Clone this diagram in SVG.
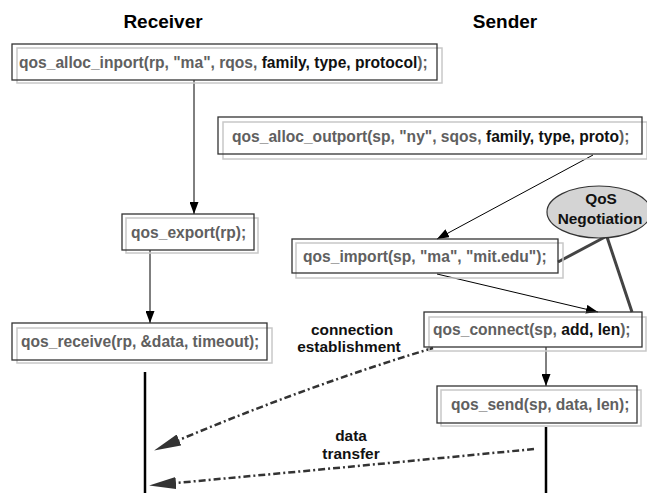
<svg xmlns="http://www.w3.org/2000/svg" width="647" height="493" viewBox="0 0 647 493">
<defs>
<style>
.t{font-family:"Liberation Sans",Arial,sans-serif;font-weight:bold;font-size:15.6px;fill:#606060}
.k{fill:#111}
.h{font-family:"Liberation Sans",Arial,sans-serif;font-weight:bold;font-size:19px;fill:#000;text-anchor:middle}
.lb{font-family:"Liberation Sans",Arial,sans-serif;font-weight:bold;font-size:15.4px;fill:#111;text-anchor:middle}
.dk{fill:none;stroke:#333;stroke-width:1.3}
.lt{fill:none;stroke:#c8c8c8;stroke-width:1.5}
.ar{stroke:#000;stroke-width:1;fill:none}
.neg{stroke:#444;stroke-width:3;fill:none}
.life{stroke:#000;stroke-width:2.5}
.dash{stroke:#333;stroke-width:2.5;fill:none;stroke-dasharray:7 3 2 3}
</style>
<marker id="a" markerUnits="userSpaceOnUse" markerWidth="12" markerHeight="9" refX="12" refY="4.5" orient="auto"><path d="M0,0 L12,4.5 L0,9 z" fill="#000"/></marker>
<marker id="b" markerUnits="userSpaceOnUse" markerWidth="27" markerHeight="12" refX="0" refY="6" orient="auto"><path d="M0,0 L27,6 L0,12 z" fill="#333"/></marker>
</defs>
<rect width="647" height="493" fill="#fff"/>
<g id="headers">
<text class="h" x="163" y="28">Receiver</text>
<text class="h" x="505" y="28">Sender</text>
</g>
<g id="connectors">
<line class="ar" x1="194" y1="80" x2="194" y2="214" marker-end="url(#a)"/>
<line class="ar" x1="150" y1="250" x2="150" y2="323" marker-end="url(#a)"/>
<line class="ar" x1="593" y1="155" x2="437" y2="239" marker-end="url(#a)"/>
<line class="ar" x1="437" y1="274" x2="598" y2="312" marker-end="url(#a)"/>
<line class="ar" x1="546" y1="347" x2="546" y2="386" marker-end="url(#a)"/>
<line class="neg" x1="605" y1="237" x2="558" y2="262"/>
<line class="neg" x1="607" y1="237" x2="632" y2="312"/>
<line class="life" x1="145" y1="372" x2="145" y2="493"/>
<line class="life" x1="546" y1="427" x2="546" y2="493"/>
<path class="dash" d="M433,348 Q310,385 179,440" marker-end="url(#b)"/>
<path class="dash" d="M534,449 Q360,466 176,483" marker-end="url(#b)"/>
<text class="lb" x="352" y="335">connection</text>
<text class="lb" x="349" y="352">establishment</text>
<text class="lb" x="351" y="441">data</text>
<text class="lb" x="351" y="459">transfer</text>
</g>
<g id="n_alloc_inport">
<rect class="lt" x="17" y="48" width="425" height="35"/>
<rect class="dk" x="12" y="44" width="425" height="36"/>
<text class="t" x="19" y="68">qos_alloc_inport(rp, "ma", rqos, <tspan class="k">family, type, protocol</tspan>);</text>
</g>
<g id="n_alloc_outport">
<rect class="lt" x="223" y="122" width="424" height="37"/>
<rect class="dk" x="218" y="117" width="424" height="37"/>
<text class="t" x="232" y="142">qos_alloc_outport(sp, "ny", sqos, <tspan class="k">family, type, proto</tspan>);</text>
</g>
<g id="n_negotiation">
<ellipse cx="599" cy="212" rx="52" ry="26" fill="#d4d4d4" stroke="#333" stroke-width="1.2"/>
<text class="lb" x="601" y="204">QoS</text>
<text class="lb" x="600" y="224">Negotiation</text>
</g>
<g id="n_export">
<rect class="lt" x="126" y="218" width="132" height="35"/>
<rect class="dk" x="122" y="214" width="132" height="36"/>
<text class="t" x="131" y="238">qos_export(rp);</text>
</g>
<g id="n_import">
<rect class="lt" x="296" y="243" width="267" height="35"/>
<rect class="dk" x="292" y="239" width="266" height="34"/>
<text class="t" x="303" y="262">qos_import(sp, "ma", "mit.edu");</text>
</g>
<g id="n_receive">
<rect class="lt" x="17" y="328" width="255" height="35"/>
<rect class="dk" x="12" y="323" width="255" height="37"/>
<text class="t" x="21" y="347">qos_receive(rp, &amp;data, timeout);</text>
</g>
<g id="n_connect">
<rect class="lt" x="429" y="317" width="217" height="34"/>
<rect class="dk" x="424" y="312" width="218" height="35"/>
<text class="t" x="433" y="335">qos_connect(sp, <tspan class="k">add, len</tspan>);</text>
</g>
<g id="n_send">
<rect class="lt" x="441" y="390" width="200" height="36"/>
<rect class="dk" x="437" y="386" width="200" height="37"/>
<text class="t" x="451" y="410">qos_send(sp, data, len);</text>
</g>
</svg>
